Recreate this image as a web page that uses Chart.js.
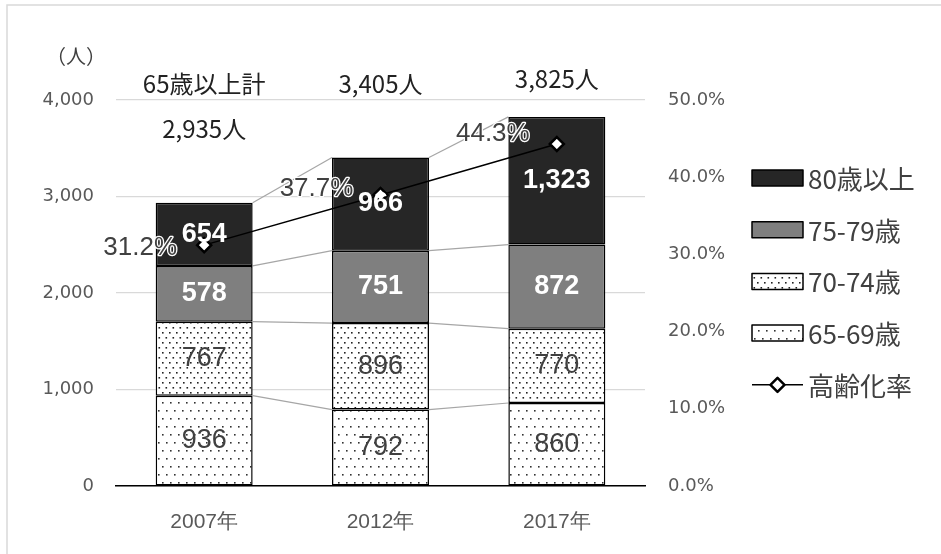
<!DOCTYPE html>
<html><head><meta charset="utf-8">
<script src="https://cdn.jsdelivr.net/npm/chart.js@4"></script>
<style>html,body{margin:0;padding:0;background:#fff}#wrap{width:941px;height:554px;position:relative}</style>
</head><body><div id="wrap"><canvas id="c" width="941" height="554"></canvas></div>
<script>
// ---- data ----
const categories = ['2007年', '2012年', '2017年'];
const age65_69 = [936, 792, 860];
const age70_74 = [767, 896, 770];
const age75_79 = [578, 751, 872];
const age80plus = [654, 966, 1323];
const totals = [2935, 3405, 3825];
const agingRate = [31.2, 37.7, 44.3];
const seriesNames = ['65-69歳', '70-74歳', '75-79歳', '80歳以上', '高齢化率'];
const totalCaption = '65歳以上計';
const unitLabel = '（人）';
const leftMax = 4000;
const rightMax = 50;

// ---- patterns ----
function makePattern(w, h, dots, r, color) {
  const c = document.createElement('canvas');
  c.width = w; c.height = h;
  const g = c.getContext('2d');
  g.fillStyle = '#fff'; g.fillRect(0, 0, w, h);
  g.fillStyle = color;
  dots.forEach(d => { g.fillRect(d[0], d[1], r, r); });
  return document.getElementById('c').getContext('2d').createPattern(c, 'repeat');
}
const sparseDots = makePattern(8, 16, [[2, 2], [6, 10]], 1.6, '#333');
const denseDots = makePattern(7, 10, [[1, 2], [4.5, 7]], 1.6, '#222');
const fills = [sparseDots, denseDots, '#7f7f7f', '#262626'];
const barValues = [age65_69, age70_74, age75_79, age80plus];

const numFmt = v => v.toLocaleString('en-US');
const FONT_CJK = "'Noto Sans CJK JP', 'Noto Sans', sans-serif";
const FONT_AX = "'DejaVu Sans', sans-serif";
const FONT_NUM = "'Liberation Sans', 'Noto Sans CJK JP', sans-serif";

const datasets = barValues.map((vals, i) => ({
  type: 'bar', label: seriesNames[i], data: vals, backgroundColor: fills[i],
  borderColor: '#000', borderWidth: 1.5, borderSkipped: false,
  yAxisID: 'y', order: 1, barPercentage: 0.55, categoryPercentage: 1
}));
datasets.push({
  type: 'line', label: seriesNames[4], data: agingRate, yAxisID: 'y1', order: 0,
  borderColor: '#000', borderWidth: 1.5, pointStyle: 'rectRot', pointRadius: 7,
  pointBackgroundColor: '#fff', pointBorderColor: '#000', pointBorderWidth: 2.5, tension: 0
});

// connecting series lines between bars
const seriesLines = {
  id: 'seriesLines',
  beforeDatasetsDraw(chart) {
    const ctx = chart.ctx;
    ctx.save();
    ctx.strokeStyle = '#a6a6a6'; ctx.lineWidth = 1.2;
    for (let d = 0; d < 4; d++) {
      const els = chart.getDatasetMeta(d).data;
      for (let i = 0; i < els.length - 1; i++) {
        const a = els[i], b = els[i + 1];
        ctx.beginPath();
        ctx.moveTo(a.x + a.width / 2, a.y);
        ctx.lineTo(b.x - b.width / 2, b.y);
        ctx.stroke();
      }
    }
    ctx.restore();
  }
};

// labels, legend, frame
const decorations = {
  id: 'decorations',
  beforeDraw(chart) {
    const ctx = chart.ctx;
    ctx.save();
    ctx.strokeStyle = '#d9d9d9'; ctx.lineWidth = 1.5;
    ctx.beginPath(); ctx.moveTo(7, 554); ctx.lineTo(7, 5); ctx.lineTo(941, 5); ctx.stroke();
    ctx.restore();
  },
  afterDatasetsDraw(chart) {
    const ctx = chart.ctx;
    const ca = chart.chartArea;
    const xs = chart.scales.x;
    ctx.save();
    ctx.textAlign = 'center'; ctx.textBaseline = 'middle';
    // bar segment labels
    for (let d = 0; d < 4; d++) {
      const els = chart.getDatasetMeta(d).data;
      els.forEach((el, i) => {
        const cy = (el.y + el.base) / 2;
        if (d >= 2) { ctx.font = "bold 27px " + FONT_NUM; ctx.fillStyle = '#fff'; }
        else { ctx.font = "27px " + FONT_NUM; ctx.fillStyle = '#404040'; }
        ctx.fillText(numFmt(barValues[d][i]), el.x, cy);
      });
    }
    // rate labels (left of points)
    const lineEls = chart.getDatasetMeta(4).data;
    const dys = [3, -6, -10];
    ctx.font = "26px " + FONT_NUM;
    lineEls.forEach((el, i) => {
      const t = agingRate[i].toFixed(1) + '%';
      const x = el.x - 64, y = el.y + dys[i];
      ctx.lineWidth = 2.5; ctx.strokeStyle = '#fff'; ctx.lineJoin = 'round';
      ctx.strokeText(t, x, y);
      ctx.fillStyle = '#404040';
      ctx.fillText(t, x, y);
    });
    // totals
    ctx.fillStyle = '#222';
    ctx.font = "24px " + FONT_CJK;
    const tyOff = [-16, -16, -21];
    totals.forEach((v, i) => {
      const x = xs.getPixelForValue(i);
      if (i === 0) {
        ctx.fillText(totalCaption, x, ca.top + tyOff[i]);
        ctx.fillText(numFmt(v) + '人', x, ca.top + 29);
      } else {
        ctx.fillText(numFmt(v) + '人', x, ca.top + tyOff[i]);
      }
    });
    // unit label
    ctx.fillStyle = '#404040';
    ctx.font = "20px " + FONT_CJK;
    ctx.fillText(unitLabel, 76, ca.top - 44);
    // legend
    const lx = ca.right + 107, lw = 51, lh = 16;
    const order = [3, 2, 1, 0, 4];
    ctx.textAlign = 'left';
    ctx.font = "26px " + FONT_CJK;
    order.forEach((d, k) => {
      const cy = 178 + k * 51.7;
      if (d < 4) {
        ctx.fillStyle = fills[d];
        ctx.fillRect(lx, cy - lh / 2, lw, lh);
        ctx.lineWidth = 1.5; ctx.strokeStyle = '#000';
        ctx.strokeRect(lx, cy - lh / 2, lw, lh);
      } else {
        ctx.lineWidth = 1.5; ctx.strokeStyle = '#000';
        ctx.beginPath(); ctx.moveTo(lx, cy); ctx.lineTo(lx + lw, cy); ctx.stroke();
        const mx = lx + lw / 2, r = 7;
        ctx.beginPath();
        ctx.moveTo(mx, cy - r); ctx.lineTo(mx + r, cy); ctx.lineTo(mx, cy + r); ctx.lineTo(mx - r, cy); ctx.closePath();
        ctx.fillStyle = '#fff'; ctx.fill(); ctx.lineWidth = 2.5; ctx.stroke();
      }
      ctx.fillStyle = '#404040';
      ctx.fillText(seriesNames[d], lx + lw + 5, cy + 1);
    });
    ctx.restore();
  }
};

new Chart(document.getElementById('c'), {
  data: { labels: categories, datasets },
  options: {
    responsive: false, animation: false,
    layout: { padding: { left: 0, right: 196, top: 100, bottom: 0 } },
    plugins: { legend: { display: false }, tooltip: { enabled: false } },
    scales: {
      x: {
        stacked: true,
        grid: { display: false, drawTicks: false },
        border: { display: true, color: '#000', width: 1.5 },
        ticks: { color: '#595959', padding: 24, font: { family: "'Liberation Sans Narrow', 'Liberation Sans', sans-serif", size: 21 } },
        afterFit(s) { s.height = 68; }
      },
      y: {
        stacked: true, min: 0, max: leftMax,
        grid: { color: '#d9d9d9', lineWidth: 1.2, drawTicks: false },
        border: { display: false },
        ticks: { stepSize: 1000, color: '#595959', padding: 22, font: { family: FONT_AX, size: 18 }, callback: v => numFmt(v) },
        afterFit(s) { s.width = 116; }
      },
      y1: {
        position: 'right', min: 0, max: rightMax,
        grid: { display: false, drawTicks: false },
        border: { display: false },
        ticks: { stepSize: 10, color: '#595959', padding: 23, font: { family: FONT_AX, size: 18 }, callback: v => v.toFixed(1) + '%' },
        afterFit(s) { s.width = 100; }
      }
    }
  },
  plugins: [seriesLines, decorations]
});
</script>
</body></html>
